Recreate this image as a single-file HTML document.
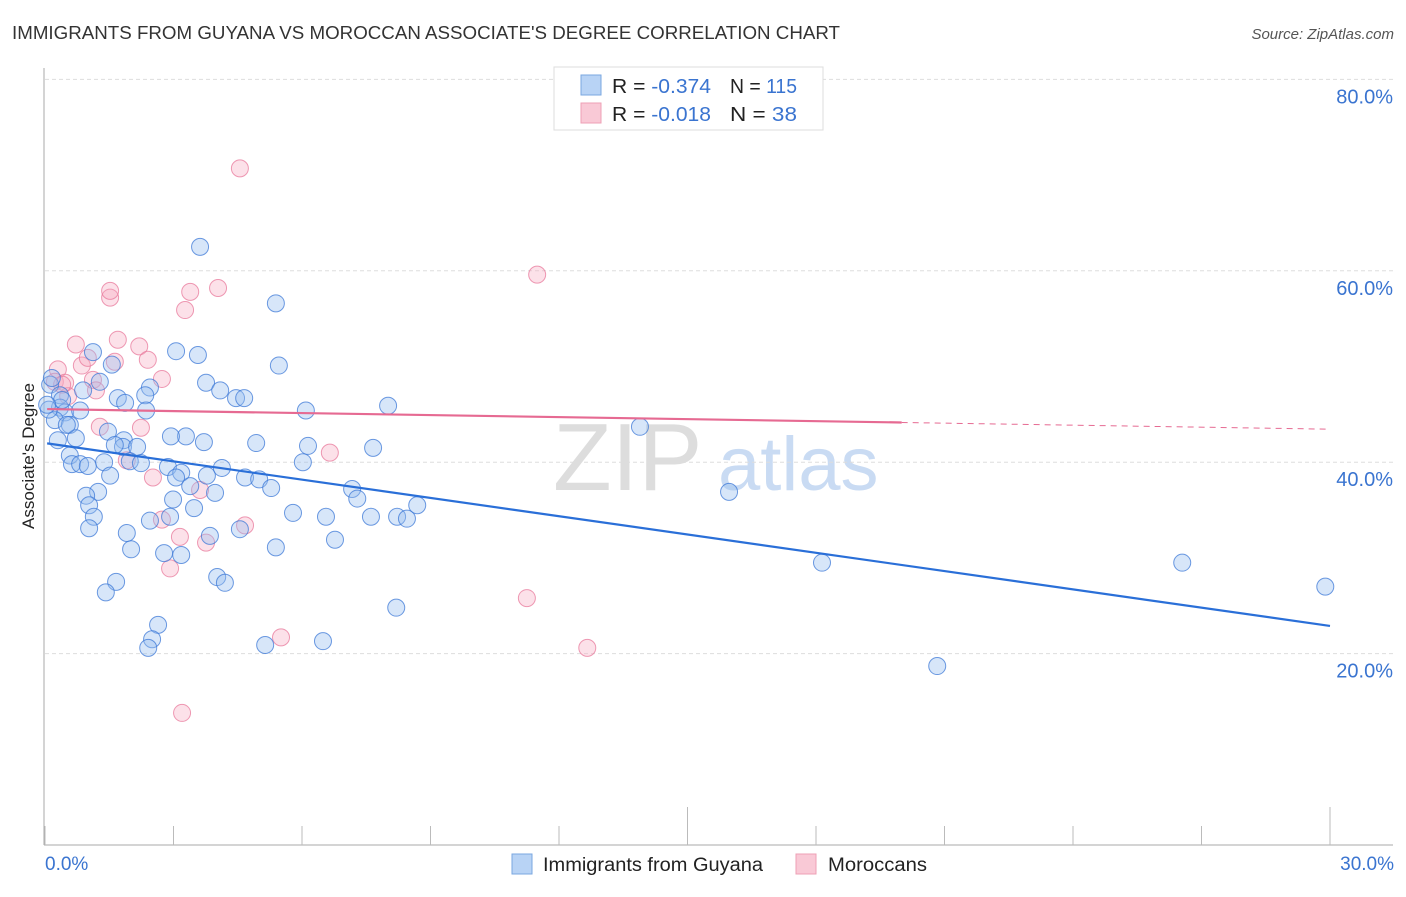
<!DOCTYPE html>
<html><head><meta charset="utf-8"><style>
body{margin:0;background:#fff;font-family:"Liberation Sans",sans-serif}
svg text{font-family:"Liberation Sans",sans-serif}
</style></head><body>
<svg id="c" width="1406" height="892">
<text x="12" y="39" font-size="18" fill="#333" textLength="828" lengthAdjust="spacingAndGlyphs">IMMIGRANTS FROM GUYANA VS MOROCCAN ASSOCIATE'S DEGREE CORRELATION CHART</text>
<text x="1394" y="39" font-size="15" fill="#555" font-style="italic" text-anchor="end">Source: ZipAtlas.com</text>
<g><text x="553" y="490" font-size="96" fill="#ddd" font-family="Liberation Serif">ZIP</text><text x="718" y="490" font-size="76" fill="#c9dbf3">atlas</text></g>
<g id="grid"></g><g id="axes"></g><g id="pts"></g><g id="lines"></g>
<text transform="translate(34,456) rotate(-90)" font-size="17" fill="#222" text-anchor="middle">Associate's Degree</text>
<g>
<rect x="554" y="67" width="269" height="63" fill="#fff" stroke="#ddd"/>
<rect x="581" y="75" width="20" height="20" fill="#b8d3f5" stroke="#7aa7e0"/>
<rect x="581" y="103" width="20" height="20" fill="#f9c9d6" stroke="#eea0b5"/>
<text x="612" y="93" font-size="20" fill="#222" textLength="99" lengthAdjust="spacingAndGlyphs">R = <tspan fill="#3a74d0">-0.374</tspan></text>
<text x="730" y="93" font-size="20" fill="#222" textLength="67" lengthAdjust="spacingAndGlyphs">N = <tspan fill="#3a74d0">115</tspan></text>
<text x="612" y="121" font-size="20" fill="#222" textLength="99" lengthAdjust="spacingAndGlyphs">R = <tspan fill="#3a74d0">-0.018</tspan></text>
<text x="730" y="121" font-size="20" fill="#222" textLength="67" lengthAdjust="spacingAndGlyphs">N =  <tspan fill="#3a74d0">38</tspan></text>
</g>
<g>
<rect x="512" y="854" width="20" height="20" fill="#b8d3f5" stroke="#7aa7e0"/>
<text x="543" y="871" font-size="19" fill="#222" textLength="220" lengthAdjust="spacingAndGlyphs">Immigrants from Guyana</text>
<rect x="796" y="854" width="20" height="20" fill="#f9c9d6" stroke="#eea0b5"/>
<text x="828" y="871" font-size="19" fill="#222" textLength="99" lengthAdjust="spacingAndGlyphs">Moroccans</text>
</g>
</svg>
<script>
const blueX=[3.62,5.39,5.46,1.12,1.56,3.06,3.57,3.76,4.09,4.46,4.65,2.45,2.34,1.28,0.89,0.12,0.35,0.35,0.47,0.82,0.23,0.58,0.72,1.70,1.87,2.36,1.47,1.84,1.82,2.15,1.98,2.24,0.58,0.63,0.82,1.00,1.38,1.52,1.24,0.96,1.03,1.14,1.03,1.91,2.01,2.45,2.92,2.99,2.87,3.18,3.06,3.29,2.94,3.71,3.39,3.48,3.85,2.78,3.18,4.02,4.20,3.97,3.78,4.13,4.55,4.67,5.00,5.28,4.93,5.39,5.79,6.09,6.14,6.02,6.56,6.77,7.17,7.29,7.61,7.66,8.01,8.22,8.45,8.69,8.20,6.49,5.14,2.64,2.50,2.41,1.66,1.42,13.89,15.97,18.14,20.83,26.55,29.89,0.09,0.16,0.40,0.30,0.51,1.63,0.05];
const blueY=[62.5,56.6,50.1,51.5,50.2,51.6,51.2,48.3,47.5,46.7,46.7,47.8,47.0,48.4,47.5,48.1,47.0,45.7,45.2,45.4,44.4,43.9,42.5,46.7,46.2,45.4,43.2,42.3,41.6,41.6,40.1,39.9,40.7,39.8,39.8,39.6,40.0,38.6,36.9,36.5,35.5,34.3,33.1,32.6,30.9,33.9,34.3,36.1,39.5,38.9,38.4,42.7,42.7,42.1,37.5,35.2,32.3,30.5,30.3,28.0,27.4,36.8,38.6,39.4,33.0,38.4,38.2,37.3,42.0,31.1,34.7,45.4,41.7,40.0,34.3,31.9,37.2,36.2,34.3,41.5,45.9,34.3,34.1,35.5,24.8,21.3,20.9,23.0,21.5,20.6,27.5,26.4,43.7,36.9,29.5,18.7,29.5,27.0,45.5,48.8,46.5,42.3,43.9,41.8,46.0];
const pinkX=[4.55,11.49,16.46,1.52,1.52,3.39,4.04,3.27,1.70,2.20,0.72,0.30,0.86,1.00,1.63,2.40,2.73,1.12,0.23,0.47,1.19,0.54,1.28,2.24,1.91,2.52,6.65,3.62,4.67,2.73,3.15,3.76,2.92,5.51,11.25,12.66,3.20,0.40];
const pinkY=[70.7,59.6,78.4,57.2,57.9,57.8,58.2,55.9,52.8,52.1,52.3,49.7,50.1,50.9,50.5,50.7,48.7,48.6,48.4,48.3,47.5,46.9,43.7,43.6,40.2,38.4,41.0,37.1,33.4,34.0,32.2,31.6,28.9,21.7,25.8,20.6,13.8,48.1];
const yTicks=[20,40,60,80];
const blueTrend=[42.0,-0.637];
const pinkTrend=[45.55,-0.07];
const NS="http://www.w3.org/2000/svg";
const sx=v=>45+v*1285/30, sy=v=>845-v*191.4/20;
function mk(tag,at,par){const e=document.createElementNS(NS,tag);for(const k in at)e.setAttribute(k,at[k]);document.getElementById(par).appendChild(e);return e;}
yTicks.forEach(t=>{
 const g=mk('line',{x1:45,x2:1393,y1:sy(t),y2:sy(t),stroke:'#ddd','stroke-dasharray':'4,3'},'grid');
 
 
 const l=mk('text',{x:1393,y:sy(t)+24,'font-size':20,fill:'#3a74d0','text-anchor':'end'},'grid');
 l.textContent=t.toFixed(1)+'%';
 
 
});
const ax=mk('line',{x1:44,x2:44,y1:68,y2:845,stroke:'#aaa'},'axes');


const bx=mk('line',{x1:44,x2:1393,y1:845,y2:845,stroke:'#aaa'},'axes');


for(let i=0;i<=10;i++){const v=i*3;const tl=mk('line',{x1:sx(v),x2:sx(v),y1:(i==5||i==10)?807:826,y2:845,stroke:'#bbb'},'axes');
 
 }
[[0,'0.0%','start',45],[30,'30.0%','end',1394]].forEach(a=>{const t=mk('text',{x:a[3],y:870,'font-size':19,fill:'#3a74d0','text-anchor':a[2]},'axes');t.textContent=a[1];
 
 });
pinkX.forEach((x,i)=>{const c=mk('circle',{cx:sx(x),cy:sy(pinkY[i]),r:8.5,fill:'rgba(245,170,192,0.35)',stroke:'rgba(232,120,155,0.75)','stroke-width':1},'pts');
 
 });
blueX.forEach((x,i)=>{const c=mk('circle',{cx:sx(x),cy:sy(blueY[i]),r:8.5,fill:'rgba(150,190,240,0.38)',stroke:'rgba(60,120,215,0.75)','stroke-width':1},'pts');
 
 });
const bl=mk('line',{x1:sx(0.05),y1:sy(blueTrend[0]+blueTrend[1]*0.05),x2:sx(30),y2:sy(blueTrend[0]+blueTrend[1]*30),stroke:'#2a6fd8','stroke-width':2.2},'lines');


const pl=mk('line',{x1:sx(0.05),y1:sy(pinkTrend[0]),x2:sx(20),y2:sy(pinkTrend[0]+pinkTrend[1]*20),stroke:'#e66a92','stroke-width':2.2},'lines');


const pd=mk('line',{x1:sx(20),y1:sy(pinkTrend[0]+pinkTrend[1]*20),x2:sx(30),y2:sy(pinkTrend[0]+pinkTrend[1]*30),stroke:'#e66a92','stroke-width':1,'stroke-dasharray':'6,5'},'lines');


</script>
</body></html>
